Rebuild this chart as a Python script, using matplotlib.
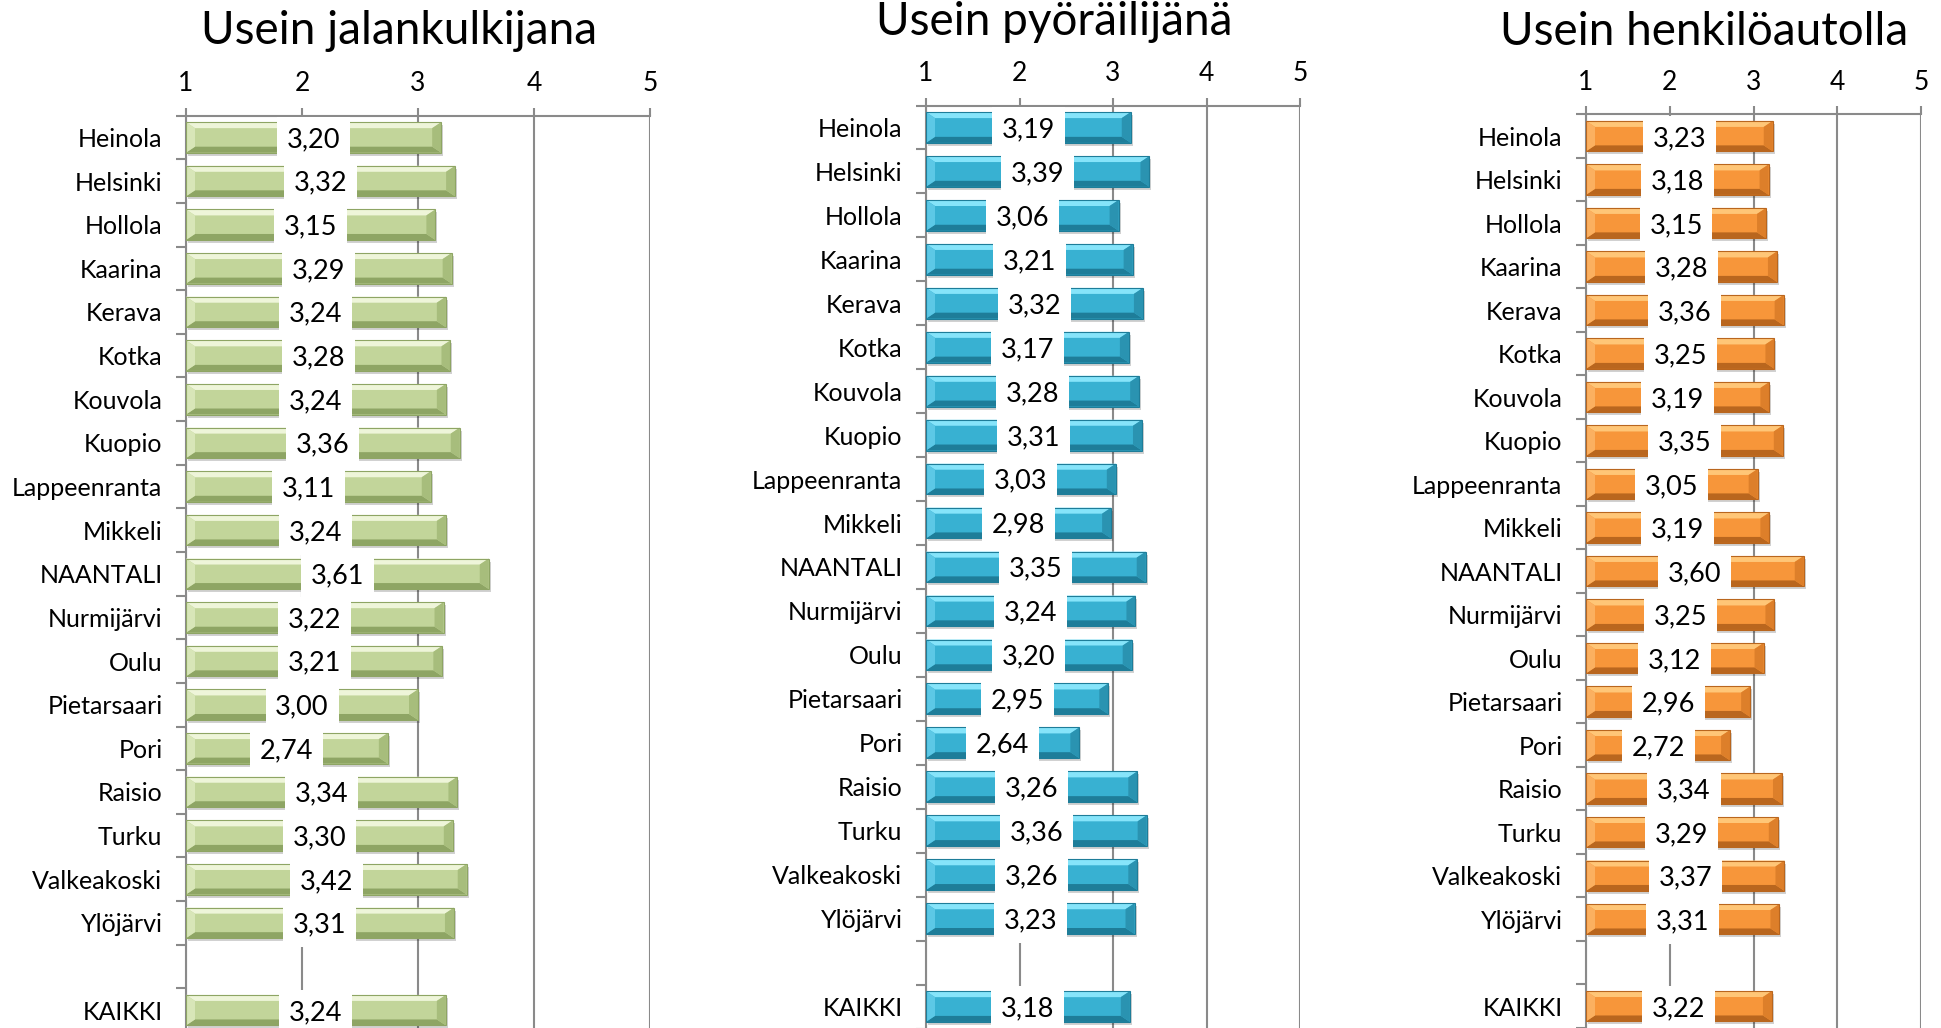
import matplotlib
matplotlib.use('Agg')
import matplotlib.pyplot as plt
from matplotlib.patches import Polygon, Rectangle
import numpy as np

plt.rcParams['font.family'] = ['Lato', 'DejaVu Sans']

categories = ['Heinola', 'Helsinki', 'Hollola', 'Kaarina', 'Kerava', 'Kotka', 'Kouvola',
              'Kuopio', 'Lappeenranta', 'Mikkeli', 'NAANTALI', 'Nurmijärvi', 'Oulu',
              'Pietarsaari', 'Pori', 'Raisio', 'Turku', 'Valkeakoski', 'Ylöjärvi', '', 'KAIKKI']
# values for all categories except the empty spacer slot
walk = [3.20, 3.32, 3.15, 3.29, 3.24, 3.28, 3.24, 3.36, 3.11, 3.24, 3.61, 3.22, 3.21,
        3.00, 2.74, 3.34, 3.30, 3.42, 3.31, 3.24]
bike = [3.19, 3.39, 3.06, 3.21, 3.32, 3.17, 3.28, 3.31, 3.03, 2.98, 3.35, 3.24, 3.20,
        2.95, 2.64, 3.26, 3.36, 3.26, 3.23, 3.18]
car = [3.23, 3.18, 3.15, 3.28, 3.36, 3.25, 3.19, 3.35, 3.05, 3.19, 3.60, 3.25, 3.12,
       2.96, 2.72, 3.34, 3.29, 3.37, 3.31, 3.22]
titles = ['Usein jalankulkijana', 'Usein pyöräilijänä', 'Usein henkilöautolla']
xticks = [1, 2, 3, 4, 5]

W, H = 1941, 1028
fig = plt.figure(figsize=(W / 100, H / 100), dpi=100)

# (left, right, top, bottom) in pixels, title center (x, y) px
panels = [
    dict(vals=walk, title=titles[0], box=(186, 650, 115.6, 1032), tpos=(399, 31),
         cols=dict(body='#c2d59a', light='#eef5d9', dark='#8ea564', end='#a7bd7c', left='#d8e6b8')),
    dict(vals=bike, title=titles[1], box=(926, 1300, 105.5, 1028.5), tpos=(1054, 22),
         cols=dict(body='#38b1d2', light='#86e4fa', dark='#1e7d99', end='#2a93b1', left='#5cc8e6')),
    dict(vals=car, title=titles[2], box=(1586, 1921, 114.4, 1028), tpos=(1704, 32),
         cols=dict(body='#f7963a', light='#ffc677', dark='#b9661e', end='#dd7f2a', left='#fbb060')),
]

positions = [i for i, c in enumerate(categories) if c != '']
grid_col = '#8a8a8a'

for p in panels:
    l, r, t, b = p['box']
    ax = fig.add_axes([l / W, 1 - b / H, (r - l) / W, (b - t) / H])
    ax.set_xlim(1, 5)
    ax.set_ylim(len(categories) - 0.5, -0.5)
    ax.set_axisbelow(True)
    ax.grid(axis='x', color=grid_col, lw=1.5)
    for s in ['right', 'bottom']:
        ax.spines[s].set_visible(False)
    for s in ['top', 'left']:
        ax.spines[s].set_color(grid_col)
        ax.spines[s].set_linewidth(1.5)
    ax.xaxis.tick_top()
    ax.set_xticks(xticks)
    ax.set_xticklabels([str(x) for x in xticks])
    ax.tick_params(axis='x', length=6, width=1.5, color=grid_col, pad=8, labelsize=19)
    ax.set_yticks(range(len(categories)))
    ax.set_yticklabels(categories)
    ax.tick_params(axis='y', which='major', length=0, pad=17, labelsize=18)
    ax.set_yticks(np.arange(-0.5, len(categories), 1.0), minor=True)
    ax.tick_params(axis='y', which='minor', length=7, width=1.5, color=grid_col)

    h = 0.7
    bars = ax.barh(positions, [v - 1 for v in p['vals']], left=1, height=h,
                   color=p['cols']['body'], zorder=2)
    fig.canvas.draw()
    bb = ax.get_window_extent()
    ppx = bb.width / 4.0
    ppy = bb.height / len(categories)
    bx = 9 / ppx
    by = 6 / ppy
    c = p['cols']
    for rect, v, y in zip(bars, p['vals'], positions):
        x0 = rect.get_x()
        x1 = x0 + rect.get_width()
        yt = rect.get_y()              # visually top (axis inverted)
        yb = yt + rect.get_height()    # visually bottom
        # shadow
        ax.add_patch(Rectangle((x0 + 2 / ppx, yt + 3 / ppy), x1 - x0, yb - yt,
                               color='#000000', alpha=0.18, lw=0, zorder=1.5))
        ax.add_patch(Polygon([(x0, yt), (x1, yt), (x1 - bx, yt + by), (x0 + bx, yt + by)],
                             closed=True, fc=c['light'], ec='none', zorder=3))
        ax.add_patch(Polygon([(x0, yb), (x1, yb), (x1 - bx, yb - by), (x0 + bx, yb - by)],
                             closed=True, fc=c['dark'], ec='none', zorder=3))
        ax.add_patch(Polygon([(x1, yt), (x1, yb), (x1 - bx, yb - by), (x1 - bx, yt + by)],
                             closed=True, fc=c['end'], ec='none', zorder=3))
        ax.add_patch(Polygon([(x0, yt), (x0, yb), (x0 + bx, yb - by), (x0 + bx, yt + by)],
                             closed=True, fc=c['left'], ec='none', zorder=3))
        ax.add_patch(Rectangle((x0, yt), x1 - x0, yb - yt, fill=False, ec=c['dark'],
                               lw=0.8, zorder=3.2))
        ax.text((1 + v) / 2, y + 0.05, f"{v:.2f}".replace('.', ','), ha='center', va='center',
                fontsize=19.5, zorder=5,
                bbox=dict(boxstyle='square,pad=0.36', fc='white', ec='none'))

    fig.text(p['tpos'][0] / W, 1 - p['tpos'][1] / H, p['title'], ha='center', va='center',
             fontsize=33)

fig.savefig('out.png', dpi=100)
